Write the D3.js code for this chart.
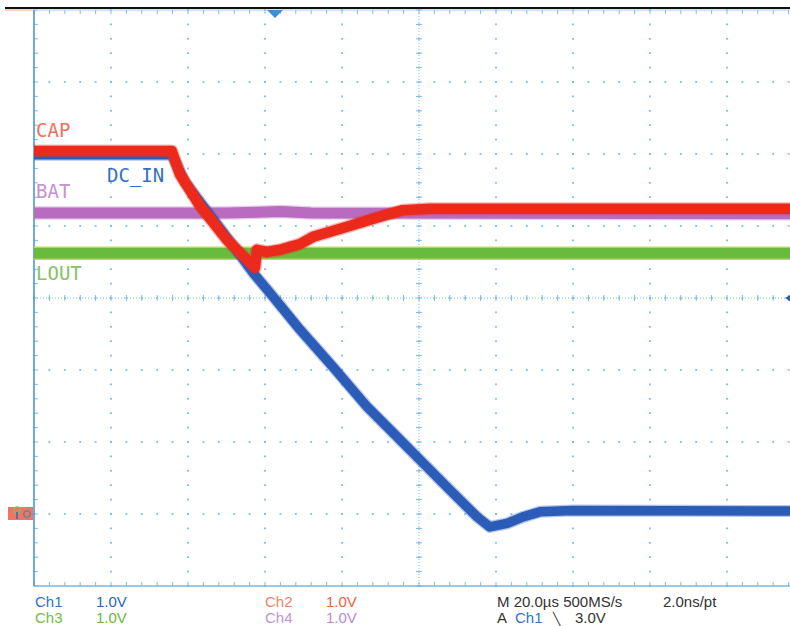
<!DOCTYPE html>
<html lang="en">
<head>
<meta charset="utf-8">
<title>CAP / DC_IN / BAT / LOUT</title>
<style>
  body { margin: 0; background: #fff; overflow: hidden; }
  svg { display: block; }
</style>
</head>
<body>
<svg></svg>
<script src="https://d3js.org/d3.v7.min.js"></script>
<script>
// screen size
var svgWidth = 790, svgHeight = 626;

// scope settings: 20us/div over 10 div, 1V/div over 8 div, all grounds at 0V
var timeDivs = d3.range(0, 201, 20);
var voltDivs = d3.range(-1, 8, 1);
var triggerTime = 62.6;
var triggerLevel = 3.0;

// traces (time in us, volts)
var capTime  = [0, 35.8, 37.9, 43.1, 50.1, 56.1, 57.4, 57.9, 60.5, 63.9, 66.5, 69.1, 72.5, 81.3, 89.9, 95.8, 102.9, 200];
var capVolts = [5.04, 5.04, 4.72, 4.28, 3.81, 3.49, 3.42, 3.67, 3.64, 3.67, 3.71, 3.75, 3.85, 3.99, 4.13, 4.22, 4.24, 4.24];

var dcTime  = [0, 35.8, 39.2, 47.0, 53.5, 56.9, 61.3, 69.1, 77.7, 86.5, 95.1, 100.3, 108.1, 115.1, 118.4, 122.9, 127.0, 131.4, 140.0, 200];
var dcVolts = [4.99, 4.99, 4.61, 4.06, 3.60, 3.35, 3.07, 2.56, 2.04, 1.49, 1.03, 0.75, 0.33, -0.04, -0.18, -0.13, -0.04, 0.03, 0.05, 0.04];

var batTime  = [0, 50, 58, 64, 72, 200];
var batVolts = [4.18, 4.18, 4.19, 4.20, 4.18, 4.17];

var loutTime  = [0, 200];
var loutVolts = [3.62, 3.62];

// channel readouts under the screen
var chNames  = ['Ch1', 'Ch2', 'Ch3', 'Ch4'];
var chScales = ['1.0V', '1.0V', '1.0V', '1.0V'];

var svg = d3.select('svg')
    .attr('width', svgWidth)
    .attr('height', svgHeight);

var x = d3.scaleLinear().domain([0, 200]).range([34, 804]);
var y = d3.scaleLinear().domain([-1, 7]).range([586, 10]);

var gridColor = '#78bde8';

// top bar
svg.append('line').attr('x1', 5).attr('x2', svgWidth).attr('y1', 8).attr('y2', 8)
    .attr('stroke', '#111').attr('stroke-width', 2);
svg.append('line').attr('x1', 5).attr('x2', 34).attr('y1', 10).attr('y2', 10)
    .attr('stroke', '#f0a888').attr('stroke-width', 1);

var grid = svg.append('g');

// dots along the major lines, one per minor division
var minorT = d3.range(0, 200.01, 4);
var minorV = d3.range(-1, 7.01, 0.2);

grid.selectAll('.hdot')
    .data(d3.cross(voltDivs.slice(1, -1), minorT))
    .enter().append('rect')
    .attr('x', function(d) { return x(d[1]) - 0.9; })
    .attr('y', function(d) { return y(d[0]) - 0.9; })
    .attr('width', 1.8).attr('height', 1.8)
    .attr('fill', gridColor);

grid.selectAll('.vdot')
    .data(d3.cross(timeDivs.slice(1), minorV))
    .enter().append('rect')
    .attr('x', function(d) { return x(d[0]) - 0.9; })
    .attr('y', function(d) { return y(d[1]) - 0.9; })
    .attr('width', 1.8).attr('height', 1.8)
    .attr('fill', gridColor);

// centre cross with tick marks
grid.append('line')
    .attr('x1', x(0)).attr('x2', x(200)).attr('y1', y(3)).attr('y2', y(3))
    .attr('stroke', gridColor).attr('stroke-dasharray', '1,2');
grid.append('line')
    .attr('x1', x(100)).attr('x2', x(100)).attr('y1', y(7)).attr('y2', y(-1))
    .attr('stroke', gridColor).attr('stroke-dasharray', '1,2');

grid.selectAll('.cht')
    .data(minorT)
    .enter().append('line')
    .attr('x1', function(d) { return x(d); })
    .attr('x2', function(d) { return x(d); })
    .attr('y1', y(3) - 3).attr('y2', y(3) + 3)
    .attr('stroke', gridColor);

grid.selectAll('.cvt')
    .data(minorV)
    .enter().append('line')
    .attr('x1', x(100) - 3).attr('x2', x(100) + 3)
    .attr('y1', function(d) { return y(d); })
    .attr('y2', function(d) { return y(d); })
    .attr('stroke', gridColor);

// border ticks
grid.selectAll('.tt')
    .data(minorT)
    .enter().append('line')
    .attr('x1', function(d) { return x(d); })
    .attr('x2', function(d) { return x(d); })
    .attr('y1', y(7)).attr('y2', y(7) + 4)
    .attr('stroke', gridColor);

grid.selectAll('.bt')
    .data(minorT)
    .enter().append('line')
    .attr('x1', function(d) { return x(d); })
    .attr('x2', function(d) { return x(d); })
    .attr('y1', y(-1)).attr('y2', y(-1) - 4)
    .attr('stroke', gridColor);

grid.selectAll('.lt')
    .data(minorV)
    .enter().append('line')
    .attr('x1', x(0)).attr('x2', x(0) + 4)
    .attr('y1', function(d) { return y(d); })
    .attr('y2', function(d) { return y(d); })
    .attr('stroke', gridColor);

// frame
grid.append('line').attr('x1', x(0)).attr('x2', x(200)).attr('y1', y(7)).attr('y2', y(7))
    .attr('stroke', '#a8c8f0').attr('stroke-width', 1);
grid.append('line').attr('x1', x(0)).attr('x2', x(200)).attr('y1', y(-1)).attr('y2', y(-1))
    .attr('stroke', '#7ab4e0').attr('stroke-width', 1.5);
grid.append('line').attr('x1', x(0)).attr('x2', x(0)).attr('y1', y(7)).attr('y2', y(-1))
    .attr('stroke', '#4a96d8').attr('stroke-width', 1.6);

// traces
var defs = svg.append('defs');
defs.append('filter').attr('id', 'soft')
    .append('feGaussianBlur').attr('stdDeviation', 0.7);

var line = d3.line()
    .x(function(d) { return x(d[0]); })
    .y(function(d) { return y(d[1]); });

var traces = svg.append('g').attr('filter', 'url(#soft)');

function drawTrace(ts, vs, color, width, edge) {
  var pts = d3.zip(ts, vs);
  if (edge) {
    traces.append('path').attr('d', line(pts)).attr('fill', 'none')
        .attr('stroke', edge).attr('stroke-width', width + 3);
  }
  traces.append('path').attr('d', line(pts)).attr('fill', 'none')
      .attr('stroke', color).attr('stroke-opacity', 0.35)
      .attr('stroke-width', width + 2.5).attr('stroke-linejoin', 'round');
  traces.append('path').attr('d', line(pts)).attr('fill', 'none')
      .attr('stroke', color).attr('stroke-width', width)
      .attr('stroke-linejoin', 'round');
}

drawTrace(batTime, batVolts, '#b86cc0', 11);
drawTrace(loutTime, loutVolts, '#68bb3a', 10.5, '#e2e46a');
drawTrace(dcTime, dcVolts, '#2c5cb8', 9.5);
drawTrace(capTime, capVolts, '#ec2a1e', 10.5);

// trace labels
var labelFont = '"DejaVu Sans Mono", monospace';
var labels = [
  {t: 'CAP', x: 36, y: 137, c: '#f0705c'},
  {t: 'DC_IN', x: 107, y: 182, c: '#3570c2'},
  {t: 'BAT', x: 36, y: 198, c: '#c890d2'},
  {t: 'LOUT', x: 36, y: 280, c: '#86c266'}
];
svg.selectAll('.lbl')
    .data(labels)
    .enter().append('text')
    .attr('x', function(d) { return d.x; })
    .attr('y', function(d) { return d.y; })
    .attr('fill', function(d) { return d.c; })
    .attr('font-family', labelFont)
    .attr('font-size', 19)
    .text(function(d) { return d.t; });

// trigger position marker (top) and trigger level marker (right)
svg.append('path')
    .attr('d', 'M' + (x(triggerTime) - 8) + ',10L' + (x(triggerTime) + 8) + ',10L' + x(triggerTime) + ',18Z')
    .attr('fill', '#3a90d8');
svg.append('path')
    .attr('d', 'M' + (svgWidth - 5) + ',' + y(triggerLevel) + 'L' + (svgWidth + 3) + ',' + (y(triggerLevel) - 5) + 'L' + (svgWidth + 3) + ',' + (y(triggerLevel) + 5) + 'Z')
    .attr('fill', '#2c5cb8');

// ground markers at 0V (stacked channel badges)
var gy = y(0);
svg.append('rect').attr('x', 8).attr('y', gy - 7).attr('width', 25).attr('height', 13)
    .attr('fill', '#ee5040').attr('opacity', 0.8);
svg.append('circle').attr('cx', 17).attr('cy', gy - 4).attr('r', 3)
    .attr('fill', 'none').attr('stroke', '#7cc060').attr('stroke-width', 1.3);
svg.append('line').attr('x1', 17).attr('x2', 17).attr('y1', gy - 2).attr('y2', gy + 5)
    .attr('stroke', '#3a6aa8').attr('stroke-width', 1.6);
svg.append('circle').attr('cx', 27).attr('cy', gy).attr('r', 3.2)
    .attr('fill', 'none').attr('stroke', '#4a8aa0').attr('stroke-width', 1.3);

// readouts
var readFont = '"Liberation Sans", Arial, sans-serif';
var chColor = ['#3272cc', '#f08466', '#72c046', '#c294d4'];
var valColor = ['#2a62c0', '#f0603a', '#6ab83a', '#b88ad0'];
var chX = [35, 265, 35, 265];
var rowY = [607, 607, 623, 623];

var readouts = svg.append('g').attr('font-family', readFont).attr('font-size', 15);

readouts.selectAll('.chn')
    .data(chNames)
    .enter().append('text')
    .attr('x', function(d, i) { return chX[i]; })
    .attr('y', function(d, i) { return rowY[i]; })
    .attr('fill', function(d, i) { return chColor[i]; })
    .text(function(d) { return d; });

readouts.selectAll('.chv')
    .data(chScales)
    .enter().append('text')
    .attr('x', function(d, i) { return chX[i] + 61; })
    .attr('y', function(d, i) { return rowY[i]; })
    .attr('fill', function(d, i) { return valColor[i]; })
    .text(function(d) { return d; });

readouts.append('text').attr('x', 497).attr('y', 607).attr('fill', '#333')
    .text('M 20.0\u00b5s 500MS/s');
readouts.append('text').attr('x', 663).attr('y', 607).attr('fill', '#333')
    .text('2.0ns/pt');
readouts.append('text').attr('x', 497).attr('y', 623).attr('fill', '#333').text('A');
readouts.append('text').attr('x', 515).attr('y', 623).attr('fill', '#3272cc').text('Ch1');
readouts.append('text').attr('x', 553).attr('y', 623).attr('fill', '#333')
    .attr('font-size', 12).text('\u2572');
readouts.append('text').attr('x', 575).attr('y', 623).attr('fill', '#333').text(triggerLevel.toFixed(1) + 'V');
</script>
</body>
</html>
